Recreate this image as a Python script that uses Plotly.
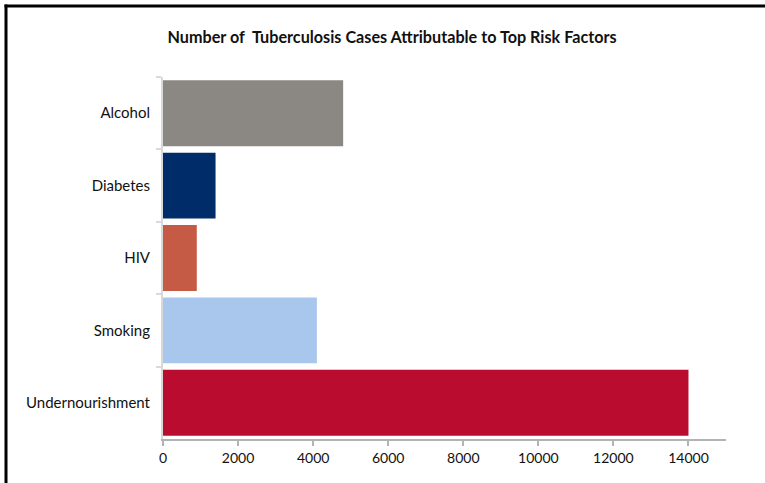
import plotly.graph_objects as go

# Risk factors, top to bottom, and attributable TB cases
risk_factors = ["Alcohol", "Diabetes", "HIV", "Smoking", "Undernourishment"]
cases = [4800, 1400, 900, 4100, 14000]
bar_colors = ["#8B8883", "#002D6A", "#C55A45", "#A9C6EC", "#BA0C2F"]
x_ticks = [0, 2000, 4000, 6000, 8000, 10000, 12000, 14000]

FONT = "Lato, 'Open Sans', sans-serif"
X_GREY = "#B3B3B3"
Y_GREY = "#D9D9D9"

fig = go.Figure(
    go.Bar(
        x=cases,
        y=risk_factors,
        orientation="h",
        marker=dict(color=bar_colors, line=dict(width=0)),
        hoverinfo="x+y",
    )
)

W, H = 765, 483
L, R, T, B = 163, 39, 77, 44
pw, ph = W - L - R, H - T - B

def px_x(p):
    return (p - L) / pw

def px_y(p):
    return (H - B - p) / ph

fig.update_layout(
    width=W,
    height=H,
    margin=dict(l=L, r=R, t=T, b=B),
    paper_bgcolor="white",
    plot_bgcolor="white",
    bargap=0.09,
    showlegend=False,
    font=dict(family=FONT, size=14, color="#111111"),
    title=dict(
        text="<b>Number of\u00a0 Tuberculosis Cases Attributable to Top Risk Factors</b>",
        x=0.5125,
        xanchor="center",
        y=1 - 37 / H,
        yanchor="middle",
        font=dict(family=FONT, size=16.2, color="#111111"),
    ),
    xaxis=dict(
        range=[0, 15000],
        tickvals=x_ticks,
        ticktext=[str(v) for v in x_ticks],
        showgrid=False,
        zeroline=False,
        showline=True,
        linecolor=X_GREY,
        linewidth=2,
        ticks="outside",
        ticklen=5,
        tickwidth=2,
        tickcolor=X_GREY,
        tickfont=dict(size=14),
        fixedrange=True,
    ),
    yaxis=dict(
        categoryorder="array",
        categoryarray=risk_factors,
        autorange="reversed",
        showgrid=False,
        zeroline=False,
        showline=True,
        linecolor=Y_GREY,
        linewidth=2,
        ticks="outside",
        tickson="boundaries",
        ticklen=5,
        tickwidth=2,
        tickcolor=Y_GREY,
        tickfont=dict(size=15),
        ticklabelstandoff=8,
        fixedrange=True,
    ),
    shapes=[
        # black frame lines along the left and top edges of the canvas
        dict(type="line", xref="paper", yref="paper",
             x0=px_x(6), x1=px_x(6), y0=px_y(4.5), y1=px_y(H + 5),
             line=dict(color="black", width=3)),
        dict(type="line", xref="paper", yref="paper",
             x0=px_x(4.5), x1=px_x(W + 5), y0=px_y(6), y1=px_y(6),
             line=dict(color="black", width=3)),
    ],
)

fig.write_html("out.html")
